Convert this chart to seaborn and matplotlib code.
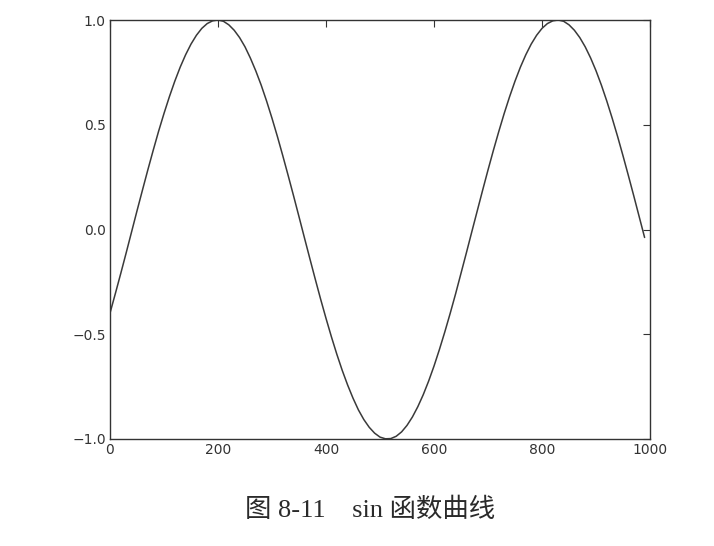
"""
plot.py
-------
Sine curve (book figure 8-11), redrawn with seaborn.
"""

import matplotlib
matplotlib.use("Agg")
import matplotlib.pyplot as plt
import seaborn as sns
import pandas as pd

# values, one every 10 units of x
x_values = list(range(0, 1000, 10))
y_values = [
    -0.399, -0.305, -0.209, -0.111, -0.011, 0.089, 0.187, 0.284, 0.378, 0.469,
    0.554, 0.634, 0.708, 0.775, 0.834, 0.885, 0.927, 0.960, 0.983, 0.996,
    1.000, 0.994, 0.977, 0.951, 0.916, 0.872, 0.818, 0.757, 0.689, 0.613,
    0.531, 0.444, 0.352, 0.257, 0.160, 0.061, -0.039, -0.138, -0.236, -0.332,
    -0.424, -0.512, -0.595, -0.672, -0.742, -0.805, -0.861, -0.907, -0.944, -0.972,
    -0.991, -0.999, -0.998, -0.987, -0.966, -0.935, -0.895, -0.846, -0.789, -0.724,
    -0.652, -0.573, -0.489, -0.400, -0.307, -0.209, -0.111, -0.011, 0.088, 0.187,
    0.284, 0.378, 0.468, 0.554, 0.634, 0.708, 0.775, 0.834, 0.885, 0.927,
    0.960, 0.983, 0.996, 1.000, 0.994, 0.977, 0.951, 0.916, 0.872, 0.819,
    0.758, 0.689, 0.613, 0.531, 0.444, 0.352, 0.257, 0.160, 0.061, -0.038,
]
x_ticks = [0, 200, 400, 600, 800, 1000]
y_ticks = [-1.0, -0.5, 0.0, 0.5, 1.0]
caption = "图 8-11    sin 函数曲线"

df = pd.DataFrame({"x": x_values, "y": y_values})

sns.set_style("white", {
    "xtick.direction": "in",
    "ytick.direction": "in",
    "axes.edgecolor": "#333333",
})

fig = plt.figure(figsize=(7.14, 5.46), dpi=100)
ax = fig.add_axes([110 / 714, 1 - 439 / 546, 540 / 714, 419 / 546])

sns.lineplot(data=df, x="x", y="y", ax=ax, color="#3a3a3a", linewidth=1.1)

ax.set_xlim(0, 1000)
ax.set_ylim(-1.0, 1.0)
ax.set_xticks(x_ticks)
ax.set_yticks(y_ticks)
ax.set_yticklabels([f"{t:.1f}".replace("-", "\u2212") for t in y_ticks])
ax.set_xlabel("")
ax.set_ylabel("")
ax.tick_params(axis="both", which="both", direction="in", top=True, right=True,
               length=5, width=0.8, color="#333333", labelsize=10,
               labelcolor="#333333", pad=3)
for spine in ax.spines.values():
    spine.set_linewidth(1.0)
    spine.set_color("#333333")

fig.text(370 / 714, 1 - 510 / 546, caption, ha="center", va="center",
         fontsize=19, color="#2a2a2a",
         family=["Liberation Serif", "Noto Sans CJK SC"])

fig.savefig("out.png", dpi=100)
plt.close(fig)
